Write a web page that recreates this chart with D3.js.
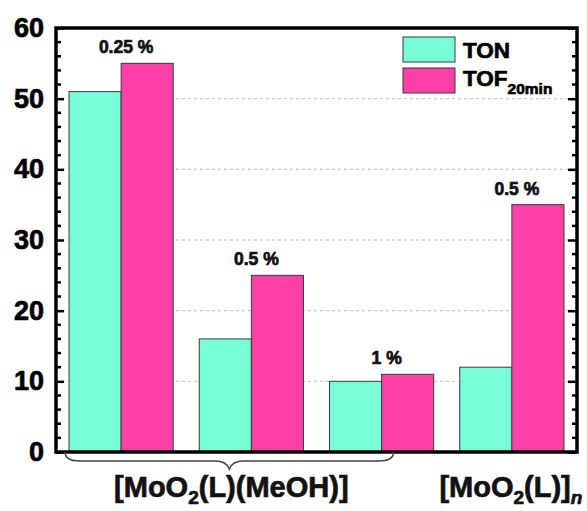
<!DOCTYPE html>
<html>
<head>
<meta charset="utf-8">
<script src="https://cdn.jsdelivr.net/npm/d3@7"></script>
<style>
  html, body { margin: 0; padding: 0; background: #fff; }
  svg { display: block; font-family: "Liberation Sans", Arial, sans-serif; font-weight: bold; }
  .heavy { stroke: currentColor; stroke-width: 0.7px; paint-order: stroke; }
</style>
</head>
<body>
<svg id="chart" width="587" height="511"></svg>
<script>
// Catalytic runs: three loadings of the methanol complex, one of the polymer
const runs = ["r1", "r2", "r3", "r4"];
const loadings = ["0.25 %", "0.5 %", "1 %", "0.5 %"];
const seriesKeys = ["TON", "TOF"];
const tonValues = [51, 16, 10, 12];
const tofValues = [55, 25, 11, 35];
const yTicks = [0, 10, 20, 30, 40, 50, 60];
const colors = { TON: "#78ffd8", TOF: "#ff40a8" };

const svg = d3.select("#chart");
const plotLeft = 56, plotRight = 577, plotTop = 28, plotBottom = 452;

const x0 = d3.scaleBand().domain(runs).range([plotLeft, plotRight])
  .paddingInner(0.2).paddingOuter(0.1);
const x1 = d3.scaleBand().domain(seriesKeys).range([0, x0.bandwidth()]);
const y = d3.scaleLinear().domain([0, 60]).range([plotBottom, plotTop]);

// dashed horizontal grid behind the bars
svg.append("g").selectAll("line")
  .data(yTicks.filter(d => d > 0 && d < 60))
  .join("line")
  .attr("x1", plotLeft).attr("x2", plotRight)
  .attr("y1", d => y(d)).attr("y2", d => y(d))
  .attr("stroke", "#bdbdbd").attr("stroke-width", 1)
  .attr("stroke-dasharray", "3,3");

// grouped bars
const rows = runs.map((r, i) => ({ run: r, TON: tonValues[i], TOF: tofValues[i], loading: loadings[i] }));
const groups = svg.append("g").selectAll("g")
  .data(rows).join("g")
  .attr("transform", d => `translate(${x0(d.run)},0)`);
groups.selectAll("rect")
  .data(d => seriesKeys.map(k => ({ key: k, value: d[k] })))
  .join("rect")
  .attr("x", d => x1(d.key))
  .attr("width", x1.bandwidth())
  .attr("y", d => y(d.value))
  .attr("height", d => y(0) - y(d.value))
  .attr("fill", d => colors[d.key])
  .attr("stroke", "#3a3a3a").attr("stroke-width", 1);

// catalyst loading above each pair
svg.append("g").selectAll("text")
  .data(rows).join("text")
  .attr("class", "heavy")
  .attr("x", d => x0(d.run) + x0.bandwidth() / 2 + 5)
  .attr("y", d => y(Math.max(d.TON, d.TOF)) - 10)
  .attr("text-anchor", "middle")
  .attr("font-size", 17.5)
  .attr("fill", "#111").style("color", "#111")
  .text(d => d.loading);

// left axis with inward ticks
const leftAxis = d3.axisLeft(y).tickValues(yTicks).tickSize(-8).tickPadding(12)
  .tickFormat(d3.format("d"));
const gl = svg.append("g").attr("transform", `translate(${plotLeft},0)`).call(leftAxis);
gl.select(".domain").remove();
gl.selectAll(".tick line").attr("stroke", "#000").attr("stroke-width", 2.5);
gl.selectAll(".tick text").attr("class", "heavy").attr("font-size", 27).attr("font-weight", "bold")
  .attr("fill", "#000").style("color", "#000")
  .attr("font-family", "'Liberation Sans', Arial, sans-serif");

// minor ticks every 2 units on left and right
const minor = d3.range(2, 60, 2).filter(d => d % 10 !== 0);
svg.append("g").selectAll("line").data(minor).join("line")
  .attr("x1", plotLeft).attr("x2", plotLeft + 5)
  .attr("y1", d => y(d)).attr("y2", d => y(d))
  .attr("stroke", "#000").attr("stroke-width", 2.5);
svg.append("g").selectAll("line").data(minor).join("line")
  .attr("x1", plotRight).attr("x2", plotRight - 5)
  .attr("y1", d => y(d)).attr("y2", d => y(d))
  .attr("stroke", "#000").attr("stroke-width", 2.5);

// right axis, inward major ticks, no labels
const rightAxis = d3.axisRight(y).tickValues(yTicks).tickSize(-9).tickFormat("");
const gr = svg.append("g").attr("transform", `translate(${plotRight},0)`).call(rightAxis);
gr.select(".domain").remove();
gr.selectAll(".tick line").attr("stroke", "#000").attr("stroke-width", 2.5);

// frame
svg.append("rect")
  .attr("x", plotLeft).attr("y", plotTop)
  .attr("width", plotRight - plotLeft).attr("height", plotBottom - plotTop)
  .attr("fill", "none").attr("stroke", "#000").attr("stroke-width", 3.5);

// legend
const legend = svg.append("g").style("color", "#000");
seriesKeys.forEach((k, i) => {
  legend.append("rect")
    .attr("x", 403).attr("y", 37 + i * 31)
    .attr("width", 52).attr("height", 25)
    .attr("fill", colors[k]).attr("stroke", "#3a3a3a").attr("stroke-width", 1);
});
legend.append("text").attr("class", "heavy").attr("x", 463).attr("y", 58)
  .attr("font-size", 22.5).text("TON");
const tofText = legend.append("text").attr("class", "heavy").attr("x", 463).attr("y", 86)
  .attr("font-size", 22.5);
tofText.append("tspan").text("TOF");
tofText.append("tspan").attr("font-size", 15.5).attr("dy", 8).text("20min");

// brace under the three methanol-complex runs
const bx1 = x0(runs[0]) - 4;
const bx2 = x0(runs[2]) + x0.bandwidth() / 2 + 12;
const bm = (bx1 + bx2) / 2;
const by0 = plotBottom, by1 = plotBottom + 9, by2 = plotBottom + 17;
const brace = d3.path();
brace.moveTo(bx1, by0);
brace.quadraticCurveTo(bx1, by1, bx1 + 15, by1);
brace.lineTo(bm - 14, by1);
brace.quadraticCurveTo(bm - 3, by1, bm, by2);
brace.quadraticCurveTo(bm + 3, by1, bm + 14, by1);
brace.lineTo(bx2 - 15, by1);
brace.quadraticCurveTo(bx2, by1, bx2, by0);
svg.append("path").attr("d", brace.toString())
  .attr("fill", "none").attr("stroke", "#444").attr("stroke-width", 1.5);

// compound labels
const lab1 = svg.append("text").attr("class", "heavy").attr("x", bm + 2).attr("y", 497)
  .attr("text-anchor", "middle").attr("font-size", 29).attr("fill", "#111").style("color", "#111");
lab1.append("tspan").text("[MoO");
lab1.append("tspan").attr("font-size", 19).attr("dy", 7).text("2");
lab1.append("tspan").attr("dy", -7).text("(L)(MeOH)]");

const lab2 = svg.append("text").attr("class", "heavy")
  .attr("x", x0(runs[3]) + x0.bandwidth() / 2 - 1).attr("y", 497)
  .attr("text-anchor", "middle").attr("font-size", 29).attr("fill", "#111").style("color", "#111");
lab2.append("tspan").text("[MoO");
lab2.append("tspan").attr("font-size", 19).attr("dy", 7).text("2");
lab2.append("tspan").attr("dy", -7).text("(L)]");
lab2.append("tspan").attr("font-size", 19).attr("dy", 7).attr("font-style", "italic").text("n");
</script>
</body>
</html>
